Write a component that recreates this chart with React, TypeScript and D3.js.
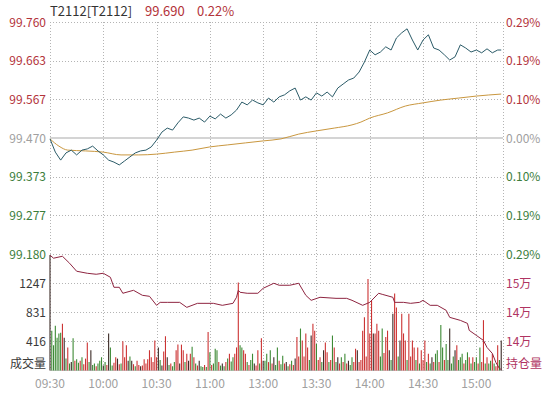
import React from 'react';
import * as d3 from 'd3';

// session: 09:30-11:30, 13:00-15:15 -> 255 minutes
const SESSION_MINUTES = 255;
const TIME_TICKS = [0, 30, 60, 90, 120, 150, 180, 210, 240];
const TIME_LABELS = ['09:30', '10:00', '10:30', '11:00', '13:00', '13:30', '14:00', '14:30', '15:00'];

const PREV_SETTLE = 99.47;
const PRICE_TICKS = [99.76, 99.663, 99.567, 99.47, 99.373, 99.277, 99.18];
const PCT_LABELS = ['0.29%', '0.19%', '0.10%', '0.00%', '0.10%', '0.19%', '0.29%'];

const VOL_TICKS = [1247, 831, 416];
const OI_TICKS = [151000, 146000, 141000];
const OI_LABELS = ['15万', '14万', '14万'];

const PRICE_T = [0, 3, 6, 9, 12, 15, 18, 21, 24, 27, 30, 33, 36, 39, 42, 45, 48, 51, 54, 57, 60, 63, 66, 69, 72, 75, 78, 81, 84, 87, 90, 93, 96, 99, 102, 105, 108, 111, 114, 117, 120, 123, 126, 129, 132, 135, 138, 141, 144, 147, 150, 153, 156, 159, 162, 165, 168, 171, 174, 177, 180, 183, 186, 189, 192, 195, 198, 201, 204, 207, 210, 213, 216, 219, 222, 225, 228, 231, 234, 237, 240, 243, 246, 249, 252, 254];
const PRICE = [99.468, 99.435, 99.415, 99.433, 99.44, 99.428, 99.44, 99.443, 99.45, 99.438, 99.428, 99.415, 99.41, 99.403, 99.413, 99.423, 99.433, 99.438, 99.44, 99.448, 99.465, 99.485, 99.495, 99.49, 99.508, 99.523, 99.52, 99.515, 99.52, 99.51, 99.525, 99.518, 99.53, 99.52, 99.528, 99.54, 99.56, 99.553, 99.565, 99.558, 99.553, 99.57, 99.56, 99.573, 99.578, 99.588, 99.595, 99.565, 99.573, 99.565, 99.583, 99.575, 99.585, 99.573, 99.595, 99.605, 99.615, 99.62, 99.635, 99.66, 99.69, 99.678, 99.685, 99.698, 99.69, 99.72, 99.733, 99.743, 99.715, 99.69, 99.715, 99.728, 99.695, 99.69, 99.678, 99.665, 99.673, 99.703, 99.695, 99.685, 99.69, 99.683, 99.693, 99.683, 99.69, 99.69];

const AVG_T = [0, 5, 10, 20, 30, 40, 50, 60, 70, 80, 90, 100, 110, 120, 130, 140, 150, 160, 170, 175, 180, 190, 200, 210, 220, 230, 240, 254];
const AVG = [99.468, 99.45, 99.44, 99.438, 99.435, 99.428, 99.428, 99.43, 99.435, 99.44, 99.448, 99.453, 99.458, 99.463, 99.468, 99.48, 99.488, 99.495, 99.503, 99.51, 99.52, 99.533, 99.55, 99.558, 99.565, 99.57, 99.575, 99.58];

const OI_T = [0, 2, 7, 11, 15, 21, 26, 30, 34, 36, 39, 41, 47, 52, 56, 60, 62, 66, 73, 77, 83, 92, 97, 103, 105, 106, 107, 111, 117, 120, 126, 129, 135, 140, 144, 147, 152, 161, 167, 170, 176, 180, 185, 187, 193, 194, 199, 203, 208, 210, 214, 218, 223, 225, 231, 235, 236, 240, 244, 246, 249, 251, 253, 254];
const OI = [155830, 155310, 155650, 154450, 153070, 152720, 152550, 152720, 152030, 150310, 150310, 149280, 149790, 148930, 148760, 147210, 147720, 147720, 147720, 146860, 147550, 147550, 147210, 147550, 148590, 149790, 149450, 149280, 149280, 150140, 151000, 150660, 150660, 151000, 148930, 148070, 148590, 148410, 148410, 148070, 147210, 147720, 149280, 149100, 148590, 147720, 147720, 147550, 147720, 148070, 147210, 147210, 146350, 145140, 144620, 144100, 142900, 142040, 141170, 139970, 138930, 137380, 136350, 136170];

// volume per minute, and direction per minute (r up, g down, k flat)
const VOLUME = [
  1650, 570, 360, 640, 470, 530, 540, 670, 470, 170,
  330, 100, 120, 460, 140, 160, 110, 140, 190, 90,
  170, 400, 120, 290, 80, 100, 60, 100, 140, 190,
  70, 120, 80, 530, 330, 70, 110, 190, 170, 90,
  100, 420, 190, 360, 140, 200, 140, 90, 60, 140,
  80, 60, 70, 160, 100, 160, 290, 190, 120, 430,
  190, 330, 150, 70, 270, 490, 190, 80, 100, 60,
  120, 290, 370, 100, 370, 290, 120, 240, 140, 240,
  340, 190, 100, 70, 140, 60, 50, 80, 50, 550,
  260, 80, 100, 310, 290, 120, 70, 100, 60, 120,
  170, 240, 130, 190, 240, 330, 1260, 360, 330, 290,
  240, 120, 80, 150, 240, 100, 70, 290, 100, 460,
  140, 140, 240, 120, 290, 100, 190, 80, 330, 140,
  90, 210, 100, 120, 60, 90, 140, 80, 170, 480,
  200, 600, 430, 200, 530, 330, 150, 500, 670, 570,
  380, 150, 190, 120, 290, 400, 260, 120, 150, 500,
  330, 120, 190, 100, 190, 120, 240, 100, 140, 80,
  190, 120, 310, 290, 120, 150, 570, 760, 200, 1310,
  530, 1000, 530, 530, 670, 570, 200, 600, 250, 480,
  570, 290, 150, 810, 1100, 900, 200, 430, 810, 530,
  430, 150, 810, 200, 430, 330, 150, 330, 100, 290,
  150, 430, 120, 240, 100, 190, 120, 240, 290, 120,
  650, 330, 150, 380, 150, 600, 100, 200, 290, 360,
  150, 190, 240, 100, 150, 260, 190, 100, 190, 120,
  190, 100, 330, 120, 720, 100, 190, 100, 140, 240,
  100, 60, 360, 150, 430,
];
const VOL_DIR =
  'kggggggrkg' + 'rgkgrggrgr' + 'rrgkggrggg' + 'kgrkggrrkr' + 'grrrkgkrgr' +
  'rkrrrrrrrr' + 'rkgkrrkgrg' + 'grrkrrgrkr' + 'grgrkggrgr' + 'grgggrgkgr' +
  'grggrrrggr' + 'rgrggkrrgr' + 'kggrgrkggr' + 'ggrkgrgrkr' + 'rgrrrrgkrr' +
  'grrgkrrgrg' + 'rgkrgrgrkg' + 'grrkrrrrrr' + 'rrkrrrggrr' + 'rkgkrrgkrr' +
  'rgrrrrgrgr' + 'rrgrgkrggr' + 'ggrggkggkr' + 'gggrggrgrg' + 'grgrrgrggr' +
  'grrgk';

const W = 549;
const H = 393;
const left = 50;
const right = 503;
const top = 22;
const mid = 254.2;
const bottom = 370.5;

const RED = '#b3333a';
const GREEN = '#3b7d3b';
const GRAY = '#a0a0a0';
const OI_COLOR = '#b03462';
const BAR_COLORS: Record<string, string> = { r: '#cc3333', g: '#3d8a35', k: '#3b2a26' };
const FONT = '"Noto Sans CJK SC", "Noto Sans", sans-serif';

const App = () => {
  const x = d3.scaleLinear().domain([0, SESSION_MINUTES]).range([left, right]);
  const yPrice = d3.scaleLinear().domain([99.18, 99.76]).range([mid, top]);
  const yVol = d3.scaleLinear().domain([0, 1663]).range([bottom, mid]);
  const yOi = d3.scaleLinear().domain([136000, 156000]).range([bottom, mid]);

  const priceLine = d3.line<number>().x((_, i) => x(PRICE_T[i])).y(d => yPrice(d));
  const avgLine = d3.line<number>().x((_, i) => x(AVG_T[i])).y(d => yPrice(d)).curve(d3.curveMonotoneX);
  const oiLine = d3.line<number>().x((_, i) => x(OI_T[i])).y(d => yOi(d));

  const last = PRICE[PRICE.length - 1];
  const chg = ((last - PREV_SETTLE) / PREV_SETTLE) * 100;

  const grid = { stroke: '#b4b4b4', strokeWidth: 1, strokeDasharray: '1,2' };

  return (
    <svg width={W} height={H} style={{ position: 'absolute', left: 0, top: 0, background: '#fff' }} fontFamily={FONT} fontSize={12}>
      <rect x={0} y={0} width={W} height={H} fill="#fff" />

      {/* title */}
      <g fontSize={13}>
        <text x={left} y={16} fill="#333">T2112[T2112]</text>
        <text x={145} y={16} fill={RED}>{last.toFixed(3)}</text>
        <text x={197} y={16} fill={RED}>{chg.toFixed(2)}%</text>
      </g>

      {/* grid */}
      {PRICE_TICKS.map((p, i) =>
        p === PREV_SETTLE ? null : (
          <line key={'hp' + i} x1={left} x2={right} y1={Math.round(yPrice(p)) + 0.5} y2={Math.round(yPrice(p)) + 0.5} {...grid} />
        )
      )}
      {VOL_TICKS.map((v, i) => (
        <line key={'hv' + i} x1={left} x2={right} y1={Math.round(yVol(v)) + 0.5} y2={Math.round(yVol(v)) + 0.5} {...grid} />
      ))}
      {TIME_TICKS.map((t, i) => (
        <line key={'vt' + i} x1={Math.round(x(t)) + 0.5} x2={Math.round(x(t)) + 0.5} y1={top} y2={bottom} {...grid} />
      ))}
      <line x1={right + 0.5} x2={right + 0.5} y1={top} y2={bottom} {...grid} />
      <line x1={left} x2={right} y1={bottom} y2={bottom} stroke="#d0d0d0" />
      <line x1={left} x2={right} y1={yPrice(PREV_SETTLE)} y2={yPrice(PREV_SETTLE)} stroke="#d4d4d4" strokeWidth={2} />

      {/* volume bars */}
      {VOLUME.map((v, i) => (
        <line
          key={'b' + i}
          x1={x(i)}
          x2={x(i)}
          y1={yVol(0)}
          y2={yVol(Math.min(v, 1663))}
          stroke={BAR_COLORS[VOL_DIR[i]]}
          strokeWidth={1.1}
        />
      ))}

      {/* lines */}
      <path d={oiLine(OI) || ''} fill="none" stroke="#8e2440" strokeWidth={1} />
      <path d={avgLine(AVG) || ''} fill="none" stroke="#c9973f" strokeWidth={1} />
      <path d={priceLine(PRICE) || ''} fill="none" stroke="#2b5b68" strokeWidth={1} />

      {/* left axis labels */}
      {PRICE_TICKS.map((p, i) => (
        <text
          key={'lp' + i}
          x={46}
          y={yPrice(p) + 4.5}
          textAnchor="end"
          fill={p > PREV_SETTLE ? RED : p < PREV_SETTLE ? GREEN : GRAY}
        >
          {p.toFixed(3)}
        </text>
      ))}
      {PCT_LABELS.map((s, i) => (
        <text
          key={'rp' + i}
          x={506}
          y={yPrice(PRICE_TICKS[i]) + 4.5}
          fill={PRICE_TICKS[i] > PREV_SETTLE ? RED : PRICE_TICKS[i] < PREV_SETTLE ? GREEN : GRAY}
        >
          {s}
        </text>
      ))}
      {VOL_TICKS.map((v, i) => (
        <text key={'lv' + i} x={46} y={yVol(v) + 4.5} textAnchor="end" fill="#3a3a3a">
          {v}
        </text>
      ))}
      <text x={46} y={368} textAnchor="end" fill="#3a3a3a">成交量</text>
      {OI_TICKS.map((v, i) => (
        <text key={'ro' + i} x={506} y={yOi(v) + 4.5} fill={OI_COLOR}>
          {OI_LABELS[i]}
        </text>
      ))}
      <text x={506} y={368} fill={OI_COLOR}>持仓量</text>

      {/* time axis */}
      {TIME_TICKS.map((t, i) => (
        <text key={'tl' + i} x={x(t)} y={388} textAnchor="middle" fill={GRAY}>
          {TIME_LABELS[i]}
        </text>
      ))}
    </svg>
  );
};

export default App;
